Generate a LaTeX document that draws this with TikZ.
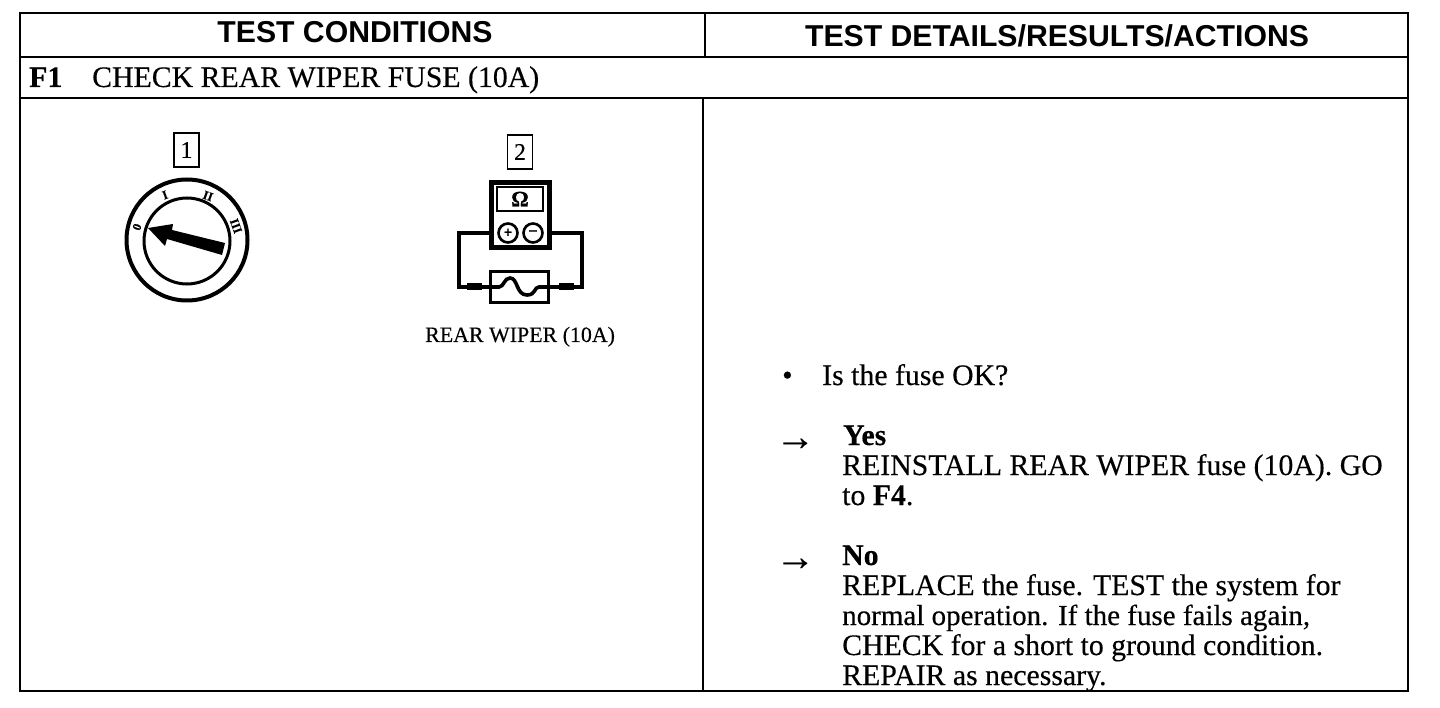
\documentclass[tikz,border=0pt]{standalone}
\usepackage{fontspec}
\setmainfont{Liberation Serif}[FakeBold=0.3]
\setsansfont{Liberation Sans}
\usetikzlibrary{positioning}
\tikzstyle{rule} = [line width=2.2pt,color=black]
\tikzstyle{heading} = [inner sep=0pt, anchor=base, font=\sffamily\bfseries\fontsize{30.2}{32}\selectfont]
\tikzstyle{body} = [inner sep=0pt, anchor=base west, font=\fontsize{29.8}{30}\selectfont]
\tikzstyle{boldbody} = [body, font=\bfseries\fontsize{29.8}{30}\selectfont]
\tikzstyle{arrowmark} = [body, font=\fontsize{40}{40}\selectfont]
\tikzstyle{tagbox} = [rectangle, draw, line width=1.8pt, minimum width=25pt, minimum height=34pt, inner sep=0pt, font=\fontsize{24}{24}\selectfont]
\tikzstyle{wire} = [line width=3.6pt, line cap=round]
\tikzstyle{lug} = [rectangle, fill=black, minimum width=15pt, minimum height=7pt, inner sep=0pt]
\tikzstyle{jack} = [circle, draw, line width=2.6pt, minimum size=19pt, inner sep=0pt, font=\bfseries\fontsize{15}{15}\selectfont]
\tikzstyle{dialmark} = [inner sep=0pt, font=\bfseries\fontsize{12.5}{13}\selectfont]
\begin{document}
\begin{tikzpicture}[x=1pt, y=-1pt]
\useasboundingbox (0,0) rectangle (1440,708);
% table
\draw[rule] (20,13) rectangle (1408,691);
\draw[rule] (20,57) -- (1408,57);
\draw[rule] (20,98) -- (1408,98);
\draw[rule] (705,13) -- (705,57);
\draw[rule] (703,98) -- (703,691);
\node[heading] (headL) at (355,43) {TEST CONDITIONS};
\node[heading] (headR) at (1057,47) {TEST DETAILS/RESULTS/ACTIONS};
\node[boldbody] (f1) at (29,87) {F1};
\node[body] (f1title) at (92,87) {CHECK REAR WIPER FUSE (10A)};
% ignition switch
\node[tagbox] (tag1) at (186.5,150) {1};
\node[circle, draw, line width=4pt, minimum size=121pt, inner sep=0pt] (dial) at (187,240) {};
\node[circle, draw, line width=3pt, minimum size=86pt, inner sep=0pt] (knob) at (187,241) {};
\fill (148,228) -- (173,224) -- (172,230) -- (225,243) -- (222,255) -- (167,239) -- (165,246) -- cycle;
\node[dialmark, rotate=70] (p0) at (137,227) {0};
\node[dialmark, rotate=20] (p1) at (165,195) {I};
\node[dialmark, rotate=-20] (p2) at (208,196) {II};
\node[dialmark, rotate=-70] (p3) at (236,226) {III};
% meter and fuse
\node[tagbox] (tag2) at (520,152) {2};
\node[rectangle, draw, line width=4.5pt, minimum width=58pt, minimum height=65pt, inner sep=0pt] (meter) at (520.5,215) {};
\node[rectangle, draw, line width=2pt, minimum width=46pt, minimum height=24pt, inner sep=0pt, font=\bfseries\fontsize{22}{22}\selectfont] (disp) at (520,199) {\char"03A9};
\node[jack] (plus) at (508,233) {+};
\node[jack] (minus) at (533,233) {\raisebox{1pt}{--}};
\node[rectangle, draw, line width=3.4pt, minimum width=58pt, minimum height=31pt, inner sep=0pt] (fuse) at (519.5,287) {};
\node[lug] (lugL) at (474,287) {};
\node[lug] (lugR) at (566,287) {};
\draw[wire] (meter.west |- plus) -| (459,287) -- (lugL);
\draw[wire] (meter.east |- minus) -| (582,287) -- (lugR);
\draw[wire] (lugL) -- (fuse.west);
\draw[wire] (lugR) -- (fuse.east);
\draw[wire] (fuse.west) -- (499,287) .. controls (504,287) and (504,278) .. (510,278) .. controls (518,278) and (516,295) .. (527,295) .. controls (536,295) and (534,287) .. (539,287) -- (fuse.east);
\node[body, font=\fontsize{21.9}{24}\selectfont] (fuselabel) at (425,342) {REAR WIPER (10A)};
% right column
\node[body] (bullet) at (782,385) {\textbullet};
\node[body] (question) at (822,385) {Is the fuse OK?};
\node[arrowmark] (arrowY) at (775,450) {\char"2192};
\node[boldbody] (yes) at (843,445) {Yes};
\node[body] (yes1) at (842,475) {REINSTALL REAR WIPER fuse (10A). GO};
\node[body] (yes2) at (842,505) {to \textbf{F4}.};
\node[arrowmark] (arrowN) at (775,570) {\char"2192};
\node[boldbody] (no) at (842,565) {No};
\node[body] (no1) at (842,595) {REPLACE the fuse. TEST the system for};
\node[body, font=\fontsize{29}{30}\selectfont] (no2) at (842,625) {normal operation. If the fuse fails again,};
\node[body] (no3) at (842,655) {CHECK for a short to ground condition.};
\node[body] (no4) at (842,685) {REPAIR as necessary.};
\end{tikzpicture}
\end{document}
